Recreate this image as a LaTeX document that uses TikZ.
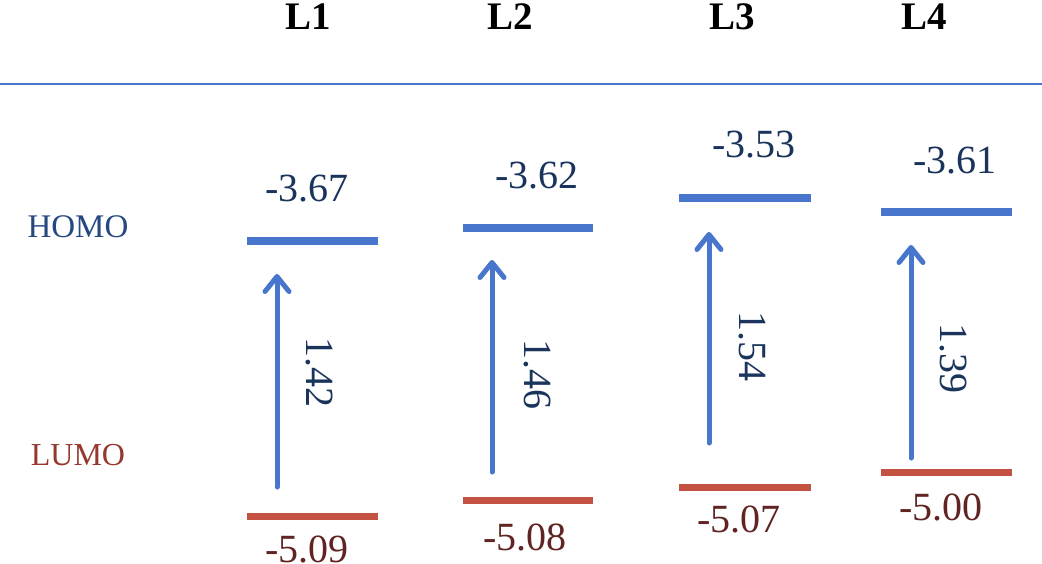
\documentclass[tikz,border=0pt]{standalone}
\usepackage{fontspec}
\setmainfont{Liberation Serif}
\usetikzlibrary{arrows.meta}
\definecolor{barblue}{RGB}{72,118,204}
\definecolor{barred}{RGB}{196,82,66}
\definecolor{homotxt}{RGB}{38,72,128}
\definecolor{numblue}{RGB}{26,52,92}
\definecolor{lumotxt}{RGB}{150,56,46}
\definecolor{numred}{RGB}{96,36,34}
\tikzset{
  homobar/.style={draw=barblue, line width=7.5pt},
  lumobar/.style={draw=barred, line width=7pt},
  gaparrow/.style={draw=barblue, line width=5pt, line cap=round,
    -{Straight Barb[length=15pt,width=24pt,line cap=round,line join=round]}},
  title/.style={font=\fontsize{39}{44}\selectfont\bfseries, text=black, inner sep=0pt},
  homonum/.style={font=\fontsize{40}{44}\selectfont, text=numblue, inner sep=0pt},
  lumonum/.style={font=\fontsize{40}{44}\selectfont, text=numred, inner sep=0pt},
  gapnum/.style={font=\fontsize{40}{44}\selectfont, text=numblue, inner sep=0pt, rotate=-90},
}
\begin{document}
\begin{tikzpicture}[x=1pt,y=-1pt]
\useasboundingbox (0,0) rectangle (1042,563);
\fill[white] (0,0) rectangle (1042,563);
% titles
\node[title] (t1) at (308,17) {L1};
\node[title] (t2) at (510,17) {L2};
\node[title] (t3) at (732,17) {L3};
\node[title] (t4) at (924,17) {L4};
% top rule
\coordinate (rl) at (0,84);
\coordinate (rr) at (1042,84);
\draw[barblue, line width=2.8pt] (rl) -- (rr);
% side labels
\node[font=\fontsize{33}{38}\selectfont, text=homotxt, inner sep=0pt] (homo) at (78,227) {HOMO};
\node[font=\fontsize{32}{38}\selectfont, text=lumotxt, inner sep=0pt] (lumo) at (78,455) {LUMO};
% L1
\coordinate (h1a) at (247,241); \coordinate (h1b) at (378,241);
\coordinate (l1a) at (247,516); \coordinate (l1b) at (378,516);
\draw[homobar] (h1a) -- (h1b);
\draw[lumobar] (l1a) -- (l1b);
\coordinate (a1s) at (277,487); \coordinate (a1e) at (277,274);
\draw[gaparrow] (a1s) -- (a1e);
\node[homonum] (n1h) at (307,189) {-3.67};
\node[lumonum] (n1l) at (307,549) {-5.09};
\node[gapnum] (g1) at (319,372) {1.42};
% L2
\coordinate (h2a) at (463,228); \coordinate (h2b) at (593,228);
\coordinate (l2a) at (463,500); \coordinate (l2b) at (593,500);
\draw[homobar] (h2a) -- (h2b);
\draw[lumobar] (l2a) -- (l2b);
\coordinate (a2s) at (492,472); \coordinate (a2e) at (492,260);
\draw[gaparrow] (a2s) -- (a2e);
\node[homonum] (n2h) at (537,176) {-3.62};
\node[lumonum] (n2l) at (525,537) {-5.08};
\node[gapnum] (g2) at (537,374) {1.46};
% L3
\coordinate (h3a) at (679,198); \coordinate (h3b) at (811,198);
\coordinate (l3a) at (679,487); \coordinate (l3b) at (811,487);
\draw[homobar] (h3a) -- (h3b);
\draw[lumobar] (l3a) -- (l3b);
\coordinate (a3s) at (709,443); \coordinate (a3e) at (709,232);
\draw[gaparrow] (a3s) -- (a3e);
\node[homonum] (n3h) at (754,145) {-3.53};
\node[lumonum] (n3l) at (739,519) {-5.07};
\node[gapnum] (g3) at (752,346) {1.54};
% L4
\coordinate (h4a) at (881,212); \coordinate (h4b) at (1012,212);
\coordinate (l4a) at (881,472); \coordinate (l4b) at (1012,472);
\draw[homobar] (h4a) -- (h4b);
\draw[lumobar] (l4a) -- (l4b);
\coordinate (a4s) at (911,458); \coordinate (a4e) at (911,245);
\draw[gaparrow] (a4s) -- (a4e);
\node[homonum] (n4h) at (955,161) {-3.61};
\node[lumonum] (n4l) at (941,507) {-5.00};
\node[gapnum] (g4) at (953,358) {1.39};
\end{tikzpicture}
\end{document}
